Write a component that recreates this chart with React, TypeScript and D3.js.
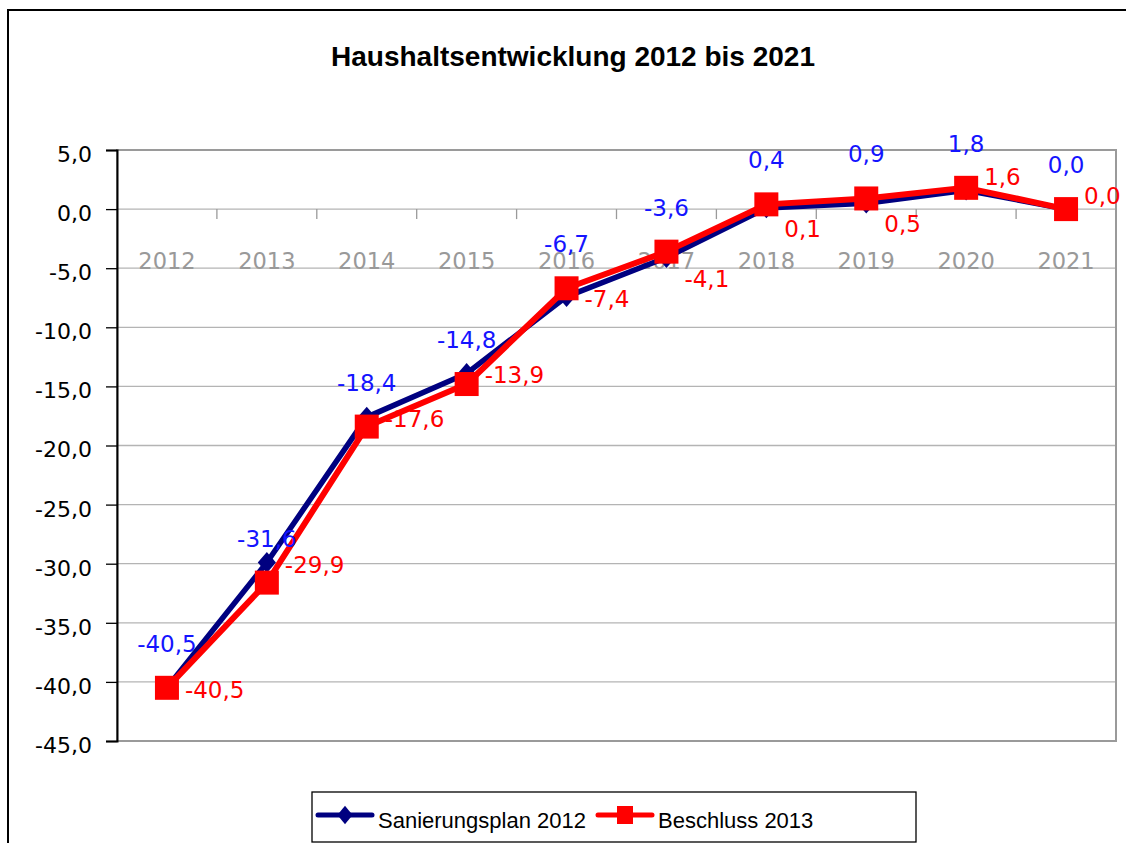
import { useEffect, useRef } from "react"
import * as d3 from "d3"

const years = ["2012", "2013", "2014", "2015", "2016", "2017", "2018", "2019", "2020", "2021"]
// navy line (legend: Sanierungsplan 2012)
const sanierungsplan = [-40.5, -29.9, -17.6, -13.9, -7.4, -4.1, 0.1, 0.5, 1.6, 0.0]
// red line (legend: Beschluss 2013)
const beschluss = [-40.5, -31.6, -18.4, -14.8, -6.7, -3.6, 0.4, 0.9, 1.8, 0.0]
// where the red value labels sit next to their point
const redLabelPlacement = ["right", "right", "right", "right", "right", "below", "below", "below", "above", "above"]
const yTicks = [5, 0, -5, -10, -15, -20, -25, -30, -35, -40, -45]
const title = "Haushaltsentwicklung 2012 bis 2021"
const seriesNames = ["Sanierungsplan 2012", "Beschluss 2013"]

const fmt = (v: number) => d3.format(".1f")(v).replace(".", ",").replace("−", "-")

const App = () => {
  const svgRef = useRef<SVGSVGElement>(null)

  useEffect(() => {
    const width = 1126
    const height = 843
    const left = 117
    const right = 1116
    const top = 150
    const bottom = 741
    const navy = "#000080"
    const red = "#ff0000"
    const labelFont = "'DejaVu Sans', sans-serif"
    const textFont = "'Liberation Sans', Arial, sans-serif"

    const svg = d3.select(svgRef.current)
    svg.selectAll("*").remove()

    svg.append("rect").attr("width", width).attr("height", height).attr("fill", "#fff")
    // outer chart frame (runs off the right and bottom edges)
    svg.append("rect")
      .attr("x", 8).attr("y", 10).attr("width", 1140).attr("height", 860)
      .attr("fill", "none").attr("stroke", "#000").attr("stroke-width", 2)

    svg.append("text")
      .attr("x", 573).attr("y", 66)
      .attr("text-anchor", "middle")
      .style("font-family", textFont)
      .style("font-weight", "bold")
      .style("font-size", "28px")
      .text(title)

    const x = d3.scaleBand().domain(years).range([left, right]).padding(0)
    const y = d3.scaleLinear().domain([-45, 5]).range([bottom, top])
    const cx = (i: number) => (x(years[i]) as number) + x.bandwidth() / 2

    // gridlines
    svg.append("g").selectAll("line")
      .data(yTicks)
      .join("line")
      .attr("x1", left).attr("x2", right)
      .attr("y1", d => y(d)).attr("y2", d => y(d))
      .attr("stroke", "#b4b4b4").attr("stroke-width", 1.3)

    // plot frame
    svg.append("rect")
      .attr("x", left).attr("y", top).attr("width", right - left).attr("height", bottom - top)
      .attr("fill", "none").attr("stroke", "#9a9a9a").attr("stroke-width", 2)

    // category ticks on zero line
    const bounds = d3.range(years.length + 1).map(i => left + i * x.bandwidth())
    svg.append("g").selectAll("line")
      .data(bounds)
      .join("line")
      .attr("x1", d => d).attr("x2", d => d)
      .attr("y1", y(0)).attr("y2", y(0) + 10)
      .attr("stroke", "#9a9a9a").attr("stroke-width", 1.3)

    svg.append("g").selectAll("text")
      .data(years)
      .join("text")
      .attr("x", (d, i) => cx(i)).attr("y", 269)
      .attr("text-anchor", "middle")
      .attr("fill", "#999")
      .style("font-family", labelFont)
      .style("font-size", "22.5px")
      .text(d => d)

    // left axis
    const yAxis = d3.axisLeft(y).tickValues(yTicks).tickSize(11).tickPadding(14).tickFormat(d => fmt(d as number))
    const ax = svg.append("g").attr("transform", `translate(${left},0)`).call(yAxis)
    ax.select(".domain").attr("stroke", "#000").attr("stroke-width", 2)
    ax.selectAll(".tick line").attr("stroke", "#000").attr("stroke-width", 1.3)
    ax.selectAll(".tick text")
      .attr("dy", "0.52em")
      .attr("fill", "#000")
      .style("font-family", labelFont)
      .style("font-size", "22px")

    const lineGen = d3.line<number>().x((d, i) => cx(i)).y(d => y(d))
    const diamond = d3.symbol(d3.symbolDiamond2, 250)

    // navy series
    svg.append("path").datum(sanierungsplan)
      .attr("d", lineGen).attr("fill", "none")
      .attr("stroke", navy).attr("stroke-width", 5.5).attr("stroke-linejoin", "round")
    svg.append("g").selectAll("path")
      .data(sanierungsplan)
      .join("path")
      .attr("d", diamond)
      .attr("transform", (d, i) => `translate(${cx(i)},${y(d)}) scale(0.92,1.05)`)
      .attr("fill", navy)

    // red series
    svg.append("path").datum(beschluss)
      .attr("d", lineGen).attr("fill", "none")
      .attr("stroke", red).attr("stroke-width", 6).attr("stroke-linejoin", "round")
    svg.append("g").selectAll("rect")
      .data(beschluss)
      .join("rect")
      .attr("x", (d, i) => cx(i) - 12).attr("y", d => y(d) - 12)
      .attr("width", 24).attr("height", 24)
      .attr("fill", red)

    // data labels (as in the original: blue texts above red points, red texts right of navy points)
    svg.append("g").selectAll("text")
      .data(beschluss)
      .join("text")
      .attr("x", (d, i) => cx(i)).attr("y", d => y(d) - 36)
      .attr("text-anchor", "middle")
      .attr("fill", "#1414ff")
      .style("font-family", labelFont)
      .style("font-size", "23px")
      .text(d => fmt(d))
    const shift: Record<string, number> = { right: 10, below: 29, above: -5 }
    svg.append("g").selectAll("text")
      .data(sanierungsplan)
      .join("text")
      .attr("x", (d, i) => cx(i) + 18)
      .attr("y", (d, i) => y(d) + shift[redLabelPlacement[i]])
      .attr("fill", red)
      .style("font-family", labelFont)
      .style("font-size", "23px")
      .text(d => fmt(d))

    // legend
    const lg = svg.append("g")
    lg.append("rect")
      .attr("x", 312).attr("y", 792).attr("width", 604).attr("height", 50)
      .attr("fill", "#fff").attr("stroke", "#000").attr("stroke-width", 1.3)
    const items = [
      { name: seriesNames[0], color: navy, x0: 318, tx: 378 },
      { name: seriesNames[1], color: red, x0: 598, tx: 658 },
    ]
    items.forEach((it, k) => {
      lg.append("line")
        .attr("x1", it.x0).attr("x2", it.x0 + 54).attr("y1", 815).attr("y2", 815)
        .attr("stroke", it.color).attr("stroke-width", 5).attr("stroke-linecap", "round")
      if (k === 0) {
        lg.append("path")
          .attr("d", d3.symbol(d3.symbolDiamond2, 180))
          .attr("transform", `translate(${it.x0 + 27},815) scale(0.9,1.1)`)
          .attr("fill", it.color)
      } else {
        lg.append("rect")
          .attr("x", it.x0 + 27 - 8).attr("y", 815 - 9).attr("width", 16).attr("height", 18)
          .attr("fill", it.color)
      }
      lg.append("text")
        .attr("x", it.tx).attr("y", 828)
        .style("font-family", textFont)
        .style("font-size", "22px")
        .text(it.name)
    })
  }, [])

  return (
    <svg
      ref={svgRef}
      width={1126}
      height={843}
      style={{ position: "absolute", left: 0, top: 0, display: "block" }}
    />
  )
}

export default App
